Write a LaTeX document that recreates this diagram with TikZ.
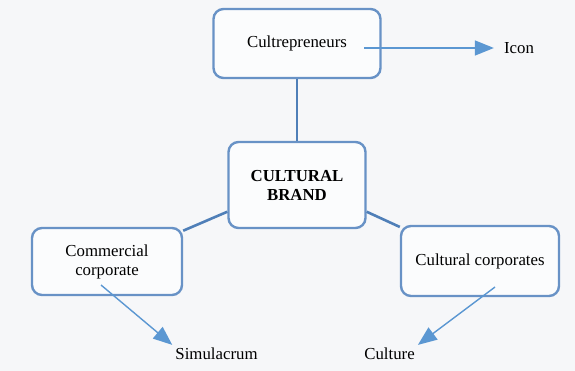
\documentclass[tikz,border=0pt]{standalone}
\usepackage{fontspec}
\setmainfont{Liberation Serif}
\usetikzlibrary{arrows.meta}
\definecolor{boxblue}{HTML}{6892C6}
\definecolor{linkblue}{HTML}{4F7FB8}
\definecolor{arrowblue}{HTML}{5B97D2}
\definecolor{paper}{HTML}{F6F7F9}
\tikzset{
  brandbox/.style={draw=boxblue, line width=2.4pt, rounded corners=10pt, fill=white!60!paper, align=center},
  link/.style={draw=linkblue, line width=2.6pt},
  pointer/.style={draw=arrowblue, line width=1.4pt, -{Triangle[length=19pt,width=15pt]}},
  outword/.style={inner sep=3pt}
}
\begin{document}
\begin{tikzpicture}[x=1pt,y=-1pt, every node/.style={font=\fontsize{16.8}{19}\selectfont}]
\def \Wd {575};
\def \Ht {371};

%le fond
\fill[paper] (0,0) rectangle (\Wd,\Ht);
\useasboundingbox (0,0) rectangle (\Wd,\Ht);

%les boites
\node[brandbox, minimum width=167pt, minimum height=69pt] (cultre) at (297,43.5) {Cultrepreneurs};
\node[brandbox, minimum width=137pt, minimum height=86pt] (brand) at (297,185) {\textbf{CULTURAL}\\\textbf{BRAND}};
\node[brandbox, minimum width=150pt, minimum height=67pt] (comm) at (107,261.5) {Commercial\\corporate};
\node[brandbox, minimum width=158pt, minimum height=70pt] (cultcorp) at (480,261) {Cultural corporates};

%les mots
\node[outword] (icon) at (519,48) {Icon};
\node[outword] (simul) at (216.5,354) {Simulacrum};
\node[outword] (culture) at (389.5,354) {Culture};

%les liens
\draw[link] (cultre.south) -- (brand.north);
\draw[link] (brand.201) -- (comm.22);
\draw[link] (brand.339) -- (cultcorp.157);

%les fleches
\coordinate (iconstart) at (364,48);
\coordinate (simulstart) at (101,285);
\coordinate (culturestart) at (495,287);
\draw[pointer, shorten >=7pt] (iconstart) -- (icon.west);
\draw[pointer] (simulstart) -- (simul.north west);
\draw[pointer] (culturestart) -- (culture.north east);

\end{tikzpicture}
\end{document}
